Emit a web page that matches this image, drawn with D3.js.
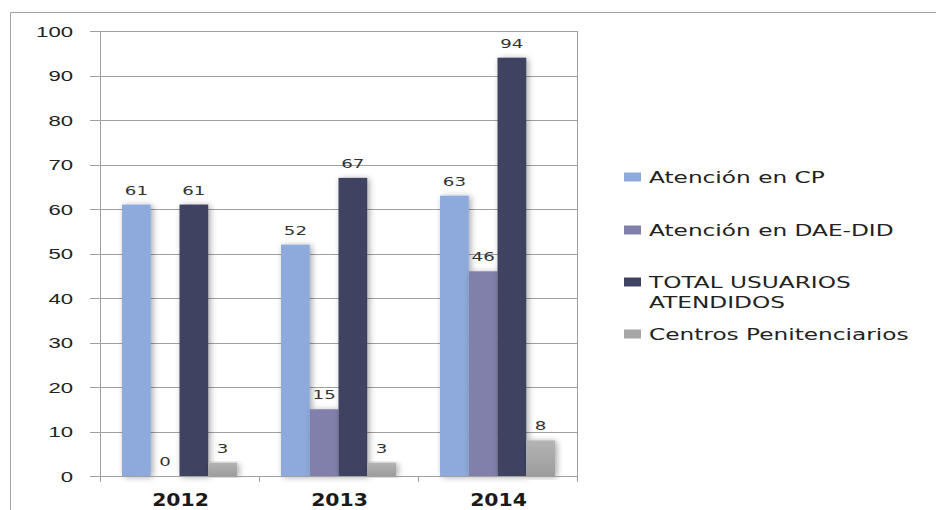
<!DOCTYPE html>
<html>
<head>
<meta charset="utf-8">
<script src="https://cdn.jsdelivr.net/npm/d3@7"></script>
<style>
  body { margin: 0; background: #fff; }
  svg { display: block; font-family: "DejaVu Sans", Verdana, sans-serif; }
</style>
</head>
<body>
<svg width="936" height="510"></svg>
<script>
  // data
  const years = ["2012", "2013", "2014"];
  const series = ["Atención en CP", "Atención en DAE-DID", "TOTAL USUARIOS ATENDIDOS", "Centros Penitenciarios"];
  const atencionCP = [61, 52, 63];
  const atencionDAE = [0, 15, 46];
  const totalUsuarios = [61, 67, 94];
  const centrosPen = [3, 3, 8];
  const yTicks = [0, 10, 20, 30, 40, 50, 60, 70, 80, 90, 100];
  const colors = ["#8eaadc", "#8080ab", "#404262", "#a6a6a6"];

  const values = [atencionCP, atencionDAE, totalUsuarios, centrosPen];
  const data = years.map((yr, i) => ({
    year: yr,
    vals: series.map((s, j) => ({ key: s, idx: j, value: values[j][i] }))
  }));

  const svg = d3.select("svg");
  const plotLeft = 100, plotRight = 577, plotTop = 31, plotBottom = 476;

  const defs = svg.append("defs");
  const shadow = defs.append("filter").attr("id", "shadow")
      .attr("x", "-50%").attr("y", "-10%").attr("width", "200%").attr("height", "120%");
  shadow.append("feDropShadow")
      .attr("dx", 2).attr("dy", 1).attr("stdDeviation", 3)
      .attr("flood-color", "#000").attr("flood-opacity", 0.35);
  const grad = defs.append("linearGradient").attr("id", "grayGrad")
      .attr("x1", 0).attr("y1", 0).attr("x2", 0).attr("y2", 1);
  grad.append("stop").attr("offset", "0%").attr("stop-color", "#b4b4b4");
  grad.append("stop").attr("offset", "100%").attr("stop-color", "#9c9c9c");

  // outer frame
  svg.append("path")
      .attr("d", "M10.5,510 V12.5 H936")
      .attr("fill", "none").attr("stroke", "#a3a3a3");

  const y = d3.scaleLinear().domain([0, 100]).range([plotBottom, plotTop]);
  const x0 = d3.scaleBand().domain(years).range([plotLeft, plotRight])
      .paddingInner(0.277).paddingOuter(0.1385);
  const x1 = d3.scaleBand().domain(series).range([0, x0.bandwidth()]);
  const color = d3.scaleOrdinal().domain(series).range(colors);

  // grid lines + y ticks
  const yAxis = svg.append("g")
      .attr("transform", `translate(${plotLeft},0)`)
      .call(d3.axisLeft(y).tickValues(yTicks).tickSize(10).tickFormat(""))
      .call(g => g.select(".domain").remove());
  yAxis.selectAll(".tick line").clone()
      .attr("x2", plotRight - plotLeft);
  yAxis.selectAll(".tick line").attr("stroke", "#a0a0a0").attr("shape-rendering", "crispEdges");

  yAxis.selectAll(".tick").append("text")
      .attr("fill", "#222")
      .attr("font-size", 14)
      .attr("text-anchor", "end")
      .attr("transform", "translate(-27,5) scale(1.58,1)")
      .text(d => d);

  // bars
  const groups = svg.append("g").selectAll("g").data(data).enter().append("g")
      .attr("transform", d => `translate(${x0(d.year)},0)`);

  groups.selectAll("rect").data(d => d.vals).enter().append("rect")
      .attr("x", d => x1(d.key))
      .attr("y", d => y(d.value))
      .attr("width", x1.bandwidth())
      .attr("height", d => y(0) - y(d.value))
      .attr("fill", d => d.idx === 3 ? "url(#grayGrad)" : color(d.key))
      .attr("filter", d => d.value > 0 ? "url(#shadow)" : null);

  groups.selectAll("text").data(d => d.vals).enter().append("text")
      .attr("transform", d => `translate(${x1(d.key) + x1.bandwidth() / 2},${y(d.value) - 10}) scale(1.4,1)`)
      .attr("text-anchor", "middle")
      .attr("font-size", 13)
      .attr("fill", "#333")
      .text(d => d.value);

  // plot frame: left axis, right border, bottom axis
  svg.append("line")
      .attr("x1", plotLeft + 0.5).attr("x2", plotLeft + 0.5).attr("y1", plotTop).attr("y2", plotBottom + 6)
      .attr("stroke", "#a0a0a0");
  svg.append("line")
      .attr("x1", plotRight + 0.5).attr("x2", plotRight + 0.5).attr("y1", plotTop).attr("y2", plotBottom + 6)
      .attr("stroke", "#a0a0a0");
  svg.append("line")
      .attr("x1", plotLeft - 10).attr("x2", plotRight).attr("y1", plotBottom + 0.5).attr("y2", plotBottom + 0.5)
      .attr("stroke", "#a0a0a0");

  const step = x0.step();
  svg.append("g").selectAll("line").data(d3.range(years.length + 1)).enter().append("line")
      .attr("x1", i => Math.round(plotLeft + i * step) + 0.5)
      .attr("x2", i => Math.round(plotLeft + i * step) + 0.5)
      .attr("y1", plotBottom).attr("y2", plotBottom + 6)
      .attr("stroke", "#a0a0a0");

  svg.append("g").selectAll("text").data(years).enter().append("text")
      .attr("transform", d => `translate(${x0(d) + x0.bandwidth() / 2 + 1},506) scale(1.2,1)`)
      .attr("text-anchor", "middle")
      .attr("font-size", 17)
      .attr("font-weight", "bold")
      .attr("fill", "#1a1a1a")
      .text(d => d);

  // legend
  const legendLines = [["Atención en CP"], ["Atención en DAE-DID"], ["TOTAL USUARIOS", "ATENDIDOS"], ["Centros Penitenciarios"]];
  const legendY = [177, 230, 282, 334];
  const legend = svg.append("g").selectAll("g").data(series).enter().append("g")
      .attr("transform", (d, i) => `translate(624,${legendY[i]})`);
  legend.append("rect")
      .attr("x", 0).attr("y", -4.5).attr("width", 17).attr("height", 9)
      .attr("fill", (d, i) => i === 3 ? "#a6a6a6" : color(d));
  legend.selectAll("text").data((d, i) => legendLines[i]).enter().append("text")
      .attr("transform", (d, j) => `translate(25,${5.5 + j * 20}) scale(1.55,1)`)
      .attr("font-size", 15)
      .attr("fill", "#222")
      .text(d => d);
</script>
</body>
</html>
